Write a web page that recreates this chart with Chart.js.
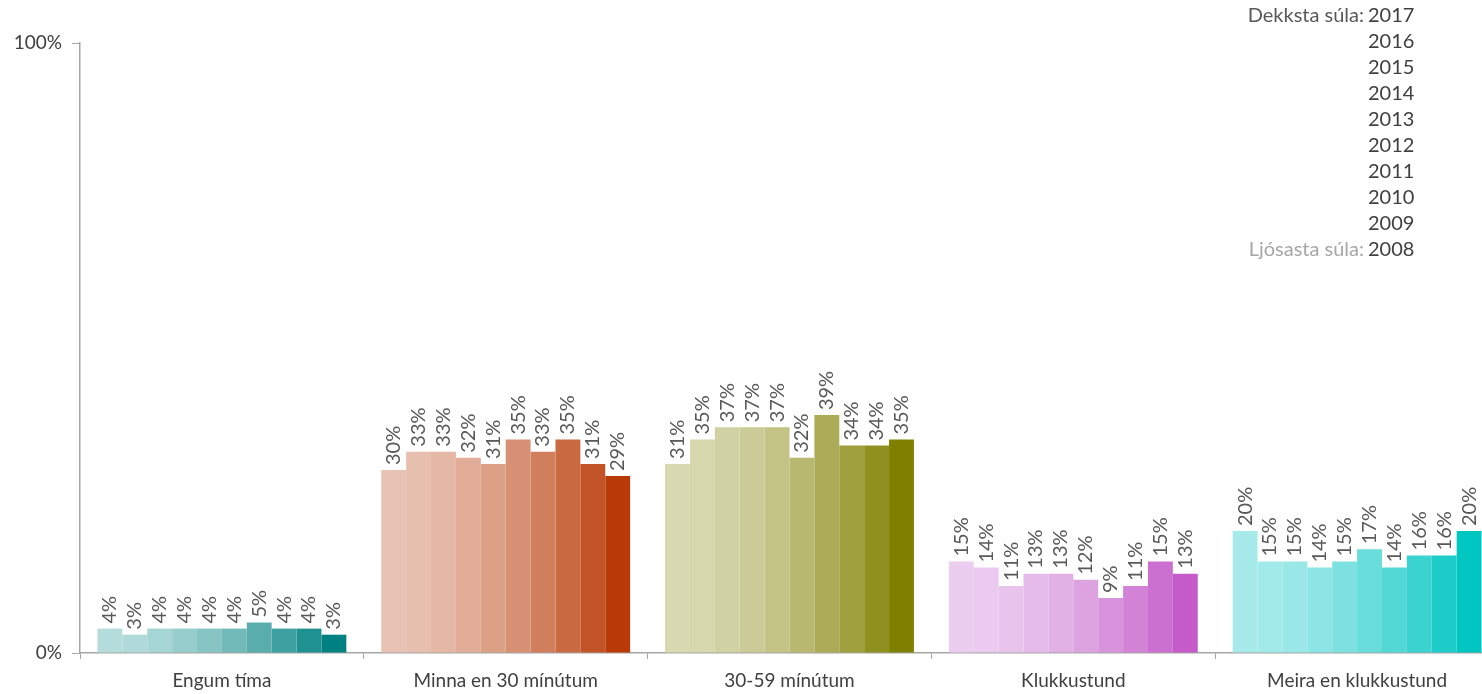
<!DOCTYPE html>
<html>
<head>
<meta charset="utf-8">
<script src="https://cdn.jsdelivr.net/npm/chart.js@4.4.1/dist/chart.umd.min.js"></script>
<style>
  html, body { margin: 0; padding: 0; background: #fff; overflow: hidden; }
  #wrap { width: 1499px; height: 694px; }
</style>
</head>
<body>
<div id="wrap"><canvas id="chart"></canvas></div>
<script>
    const categories = ['Engum tíma', 'Minna en 30 mínútum', '30-59 mínútum', 'Klukkustund', 'Meira en klukkustund'];
    const years = ['2008', '2009', '2010', '2011', '2012', '2013', '2014', '2015', '2016', '2017'];

    // values per category, 2008 -> 2017
    const engum = [4, 3, 4, 4, 4, 4, 5, 4, 4, 3];
    const minna30 = [30, 33, 33, 32, 31, 35, 33, 35, 31, 29];
    const min3059 = [31, 35, 37, 37, 37, 32, 39, 34, 34, 35];
    const klukkustund = [15, 14, 11, 13, 13, 12, 9, 11, 15, 13];
    const meira = [20, 15, 15, 14, 15, 17, 14, 16, 16, 20];

    const yTicks = [0, 100];

    // light / dark colour per category
    const lightColors = ['#b3dcdb', '#e8c2b2', '#d8d9b1', '#ebcdef', '#a6eaea'];
    const darkColors = ['#008080', '#b83b07', '#808000', '#c45bc9', '#00c6c2'];

    function hex(c) { return [1, 3, 5].map(i => parseInt(c.substr(i, 2), 16)); }
    function mix(a, b, t) {
        const A = hex(a), B = hex(b);
        return 'rgb(' + A.map((v, i) => Math.round(v + (B[i] - v) * t)).join(',') + ')';
    }

    const allSeries = [engum, minna30, min3059, klukkustund, meira];
    const datasets = years.map((yr, i) => ({
        label: yr,
        data: allSeries.map(s => s[i]),
        backgroundColor: categories.map((c, k) => mix(lightColors[k], darkColors[k], Math.pow(i / (years.length - 1), 1.7))),
        borderWidth: 0,
        categoryPercentage: 0.877,
        barPercentage: 1
    }));

    const FONT = 'Lato, "Open Sans", sans-serif';

    const barLabels = {
        id: 'barLabels',
        afterDatasetsDraw(chart) {
            const ctx = chart.ctx;
            ctx.save();
            ctx.fillStyle = '#595959';
            ctx.font = '20px ' + FONT;
            ctx.textAlign = 'left';
            ctx.textBaseline = 'middle';
            chart.data.datasets.forEach((ds, di) => {
                chart.getDatasetMeta(di).data.forEach((bar, j) => {
                    ctx.save();
                    ctx.translate(bar.x, bar.y - 5);
                    ctx.rotate(-Math.PI / 2);
                    ctx.fillText(ds.data[j] + '%', 0, 0);
                    ctx.restore();
                });
            });
            ctx.restore();
        }
    };

    const yearLegend = {
        id: 'yearLegend',
        afterDraw(chart) {
            const ctx = chart.ctx;
            ctx.save();
            ctx.font = '20px ' + FONT;
            ctx.textBaseline = 'middle';
            const x = 1368, y0 = 16, step = 26;
            years.slice().reverse().forEach((yr, i) => {
                ctx.textAlign = 'left';
                ctx.fillStyle = '#404040';
                ctx.fillText(yr, x, y0 + i * step);
            });
            ctx.textAlign = 'right';
            ctx.fillStyle = '#595959';
            ctx.fillText('Dekksta súla:', x - 4, y0);
            ctx.fillStyle = '#a6a6a6';
            ctx.fillText('Ljósasta súla:', x - 4, y0 + 9 * step);
            ctx.restore();
        }
    };

    new Chart(document.getElementById('chart'), {
        type: 'bar',
        data: { labels: categories, datasets: datasets },
        plugins: [barLabels, yearLegend],
        options: {
            responsive: true,
            maintainAspectRatio: false,
            animation: false,
            layout: { padding: { top: 43, right: 0, left: 0, bottom: 0 } },
            plugins: { legend: { display: false }, tooltip: { enabled: false } },
            scales: {
                x: {
                    grid: { display: true, drawOnChartArea: false, offset: true, tickLength: 6, color: '#a6a6a6', lineWidth: 1 },
                    border: { color: '#a6a6a6', width: 1.5 },
                    ticks: { color: '#404040', font: { size: 19, family: FONT }, padding: 10, maxRotation: 0 },
                    afterFit(s) { s.height = 41; }
                },
                y: {
                    min: 0,
                    max: 100,
                    afterBuildTicks(s) { s.ticks = yTicks.map(v => ({ value: v })); },
                    grid: { display: true, drawOnChartArea: false, tickLength: 8, color: '#a6a6a6' },
                    border: { color: '#a6a6a6', width: 1.5 },
                    ticks: { color: '#404040', font: { size: 19, family: FONT }, padding: 10, callback: v => v + '%' },
                    afterFit(s) { s.width = 80; }
                }
            }
        }
    });
</script>
</body>
</html>
